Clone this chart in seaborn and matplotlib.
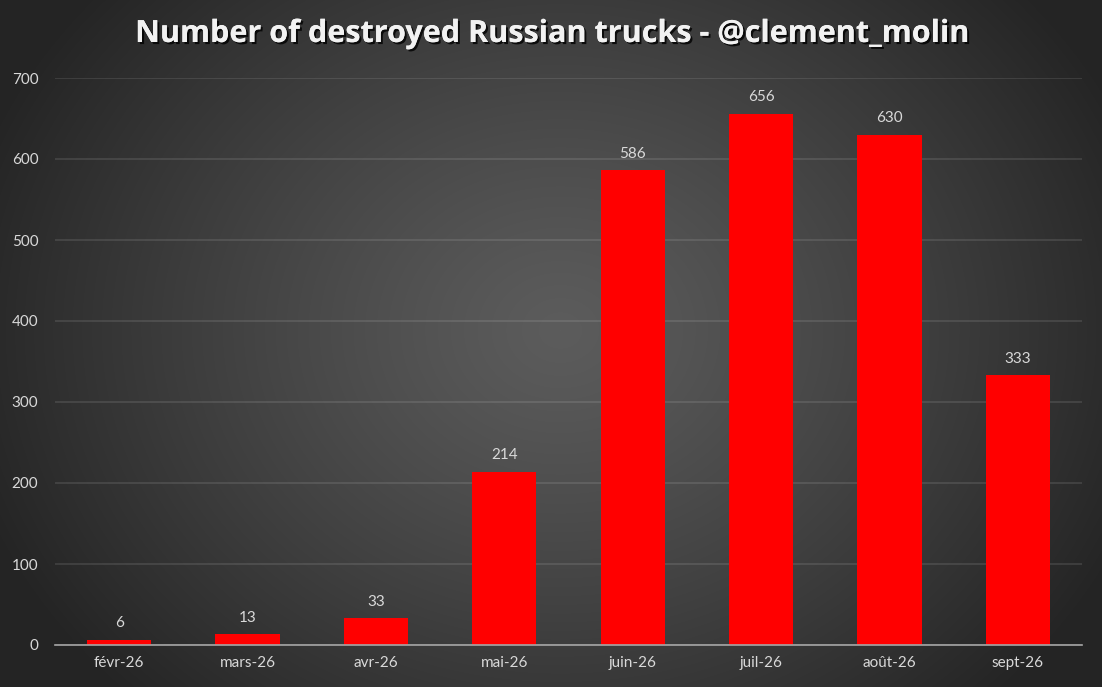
import numpy as np
import pandas as pd
import matplotlib
matplotlib.use("Agg")
import matplotlib.pyplot as plt
import matplotlib.patheffects as pe
import seaborn as sns

months = ["févr-26", "mars-26", "avr-26", "mai-26", "juin-26", "juil-26", "août-26", "sept-26"]
trucks = [6, 13, 33, 214, 586, 656, 630, 333]
yticks = [0, 100, 200, 300, 400, 500, 600, 700]

df = pd.DataFrame({"month": months, "trucks": trucks})

sns.set_style("dark")
plt.rcParams['font.family'] = ['Lato', 'DejaVu Sans']

W, H = 1102, 687
fig = plt.figure(figsize=(W / 100, H / 100), dpi=100)

# radial gradient background
bg = fig.add_axes([0, 0, 1, 1], zorder=-10)
yy, xx = np.mgrid[0:H, 0:W]
r = np.sqrt(((xx - 560) / 620.0) ** 2 + ((yy - 330) / 520.0) ** 2)
r = np.clip(r, 0, 1)
lo, hi = 0x24, 0x5c
g = (hi - (hi - lo) * r ** 1.2) / 255.0
img = np.dstack([g, g, g])
bg.imshow(img, aspect="auto", extent=[0, 1, 0, 1], origin="upper")
bg.set_axis_off()

ax = fig.add_axes([55 / W, 1 - 645 / H, (1082 - 55) / W, (645 - 78) / H])
ax.patch.set_alpha(0)
sns.barplot(data=df, x="month", y="trucks", color="#ff0000", width=0.5,
            saturation=1, ax=ax, zorder=3)
for p in ax.patches:
    p.set_edgecolor("none")

ax.set_ylim(0, 700)
ax.set_xlim(-0.5, len(months) - 0.5)
ax.set_yticks(yticks)
ax.set_yticklabels([str(v) for v in yticks])
ax.set_xlabel("")
ax.set_ylabel("")
ax.grid(axis="y", color="white", alpha=0.1, linewidth=1.5, zorder=0)
ax.grid(axis="x", visible=False)
for s in ["top", "right", "left"]:
    ax.spines[s].set_visible(False)
ax.spines["bottom"].set_color("#a6a6a6")
ax.spines["bottom"].set_linewidth(1.2)
ax.spines["bottom"].set_zorder(4)

ax.tick_params(axis="y", length=0, colors="#d9d9d9", labelsize=11, pad=12)
ax.tick_params(axis="x", which="major", length=0, colors="#d9d9d9", labelsize=11, pad=8)
ax.set_xticks(np.arange(-0.5, len(months)), minor=True)
ax.tick_params(axis="x", which="minor", length=5, color="#a6a6a6", width=1.2)

for i, v in enumerate(trucks):
    ax.text(i, v + 12, str(v), ha="center", va="bottom", color="#d9d9d9", fontsize=11)

fig.text(0.5, 1 - 34 / H, "Number of destroyed Russian trucks - @clement_molin",
         ha="center", va="center", color="#f2f2f2", fontsize=22, fontweight="bold",
         family=["Open Sans", "DejaVu Sans"],
         path_effects=[pe.withSimplePatchShadow(offset=(1.5, -1.5), shadow_rgbFace="black", alpha=0.8),
                       pe.Normal()])

fig.savefig("out.png", dpi=100)
